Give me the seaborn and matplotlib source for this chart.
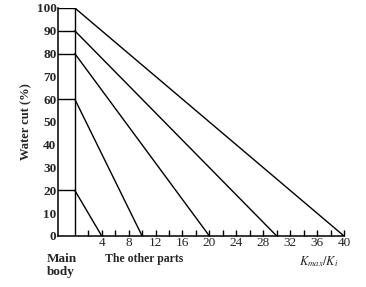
import matplotlib
matplotlib.use("Agg")
import matplotlib.pyplot as plt
import seaborn as sns
import pandas as pd

# Data
levels = [20, 60, 80, 90, 100]          # water cut at main body (%)
intercepts = [4, 10, 20, 30, 40]        # Kmax/Ki where line reaches 0
x_ticks = [4, 8, 12, 16, 20, 24, 28, 32, 36, 40]
y_ticks = [0, 10, 20, 30, 40, 50, 60, 70, 80, 90, 100]
main_left = -2.5

sns.set_theme(style="white")
plt.rcParams['font.family'] = ['Liberation Serif', 'DejaVu Serif']
plt.rcParams['mathtext.fontset'] = 'stix'

rows = []
for i, (lv, ic) in enumerate(zip(levels, intercepts)):
    rows.append({"x": 0, "y": lv, "s": f"d{i}"})
    rows.append({"x": ic, "y": 0, "s": f"d{i}"})
    rows.append({"x": main_left, "y": lv, "s": f"h{i}"})
    rows.append({"x": 0, "y": lv, "s": f"h{i}"})
rows.append({"x": 0, "y": 0, "s": "v"})
rows.append({"x": 0, "y": max(levels), "s": "v"})
df = pd.DataFrame(rows)

fig = plt.figure(figsize=(3.66, 2.87), dpi=100)
ax = fig.add_axes([58/366, 1-236/287, (344-58)/366, (236-8)/287])

sns.lineplot(data=df, x="x", y="y", units="s", estimator=None, sort=False,
             color="black", linewidth=1.0, ax=ax, legend=False)

ax.set_xlim(main_left, 40)
ax.set_ylim(0, 100)
for sp in ["top", "right"]:
    ax.spines[sp].set_visible(False)
for sp in ["left", "bottom"]:
    ax.spines[sp].set_color("black")
    ax.spines[sp].set_linewidth(1.1)

ax.set_xticks(x_ticks)
ax.set_xticklabels([str(t) for t in x_ticks], fontsize=9.5)
ax.set_xticks([t - 2 for t in x_ticks], minor=True)
ax.tick_params(axis="x", which="both", direction="in", length=4, width=1,
               color="black", pad=1, bottom=True)
ax.set_yticks(y_ticks)
ax.set_yticklabels([str(t) for t in y_ticks], fontsize=9.5, fontweight="bold")
ax.tick_params(axis="y", length=0, pad=1)
ax.set_xlabel("")
ax.set_ylabel("Water cut (%)", fontsize=9, fontweight="bold")
ax.yaxis.set_label_coords((32 - 58) / (344 - 58), 0.5)

fig.text(47/366, 1-259/287, "Main", fontsize=9.5, fontweight="bold",
         ha="left", va="center")
fig.text(47/366, 1-272/287, "body", fontsize=9.5, fontweight="bold",
         ha="left", va="center")
fig.text(105/366, 1-259/287, "The other parts", fontsize=8.5, fontweight="bold",
         ha="left", va="center")
fig.text(339/366, 1-262/287, r"$K_{max}/K_i$", fontsize=9,
         ha="right", va="center")

fig.savefig("out.png", dpi=100)
